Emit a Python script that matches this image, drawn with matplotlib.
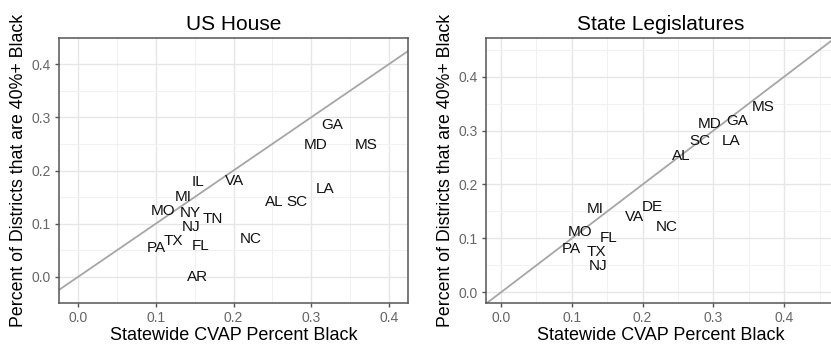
import numpy as np
import matplotlib
matplotlib.use("Agg")
import matplotlib.pyplot as plt
from matplotlib.ticker import MultipleLocator, FormatStrFormatter

plt.rcParams["font.family"] = ["Liberation Sans", "DejaVu Sans"]

# US House: statewide CVAP share black vs. share of districts 40%+ black
house_states = ["GA", "MD", "MS", "IL", "VA", "LA", "MI", "AL", "SC", "MO",
                "NY", "TN", "NJ", "NC", "TX", "PA", "FL", "AR"]
house_cvap = [0.327, 0.306, 0.370, 0.154, 0.201, 0.318, 0.135, 0.252, 0.282, 0.110,
              0.144, 0.174, 0.146, 0.222, 0.123, 0.101, 0.158, 0.154]
house_share = [0.285, 0.247, 0.248, 0.178, 0.180, 0.165, 0.151, 0.141, 0.141, 0.124,
               0.120, 0.109, 0.093, 0.071, 0.068, 0.054, 0.059, 0.000]

# State legislatures
leg_states = ["MS", "MD", "GA", "SC", "LA", "AL", "MI", "DE", "VA", "NC",
              "MO", "FL", "PA", "TX", "NJ"]
leg_cvap = [0.370, 0.295, 0.334, 0.281, 0.325, 0.254, 0.133, 0.214, 0.189, 0.234,
            0.112, 0.152, 0.100, 0.135, 0.137]
leg_share = [0.344, 0.313, 0.317, 0.281, 0.281, 0.252, 0.154, 0.159, 0.139, 0.122,
             0.111, 0.100, 0.080, 0.075, 0.048]

W, H = 831, 352
fig = plt.figure(figsize=(W / 100, H / 100), dpi=100)


def panel(rect, title, states, xs, ys, xlim, ylim):
    ax = fig.add_axes(rect)
    ax.set_xlim(*xlim)
    ax.set_ylim(*ylim)
    ax.xaxis.set_major_locator(MultipleLocator(0.1))
    ax.yaxis.set_major_locator(MultipleLocator(0.1))
    ax.xaxis.set_minor_locator(MultipleLocator(0.05))
    ax.yaxis.set_minor_locator(MultipleLocator(0.05))
    ax.grid(which="major", color="#e6e6e6", linewidth=1.0, zorder=0)
    ax.grid(which="minor", color="#f1f1f1", linewidth=0.7, zorder=0)
    ax.set_axisbelow(True)
    for s in ax.spines.values():
        s.set_color("#555555")
        s.set_linewidth(1.1)
    ax.tick_params(which="major", length=3, width=1.0, color="#555555",
                   labelcolor="#666666", labelsize=10, pad=3)
    ax.tick_params(which="minor", length=0)
    ax.xaxis.set_major_formatter(FormatStrFormatter("%.1f"))
    ax.yaxis.set_major_formatter(FormatStrFormatter("%.1f"))

    # 45-degree reference line
    lo = min(xlim[0], ylim[0]) - 0.1
    hi = max(xlim[1], ylim[1]) + 0.1
    ax.plot([lo, hi], [lo, hi], color="#a6a6a6", linewidth=1.3, zorder=1)

    for st, x, y in zip(states, xs, ys):
        ax.text(x, y, st, ha="center", va="center", fontsize=11, color="#111111",
                zorder=3)

    ax.set_title(title, fontsize=15, pad=6)
    ax.set_xlabel("Statewide CVAP Percent Black", fontsize=13, labelpad=1)
    ax.set_ylabel("Percent of Districts that are 40%+ Black", fontsize=12.8, labelpad=3)
    return ax


panel([59 / W, 49 / H, 349 / W, 265 / H], "US House",
      house_states, house_cvap, house_share, (-0.0244, 0.4244), (-0.049, 0.449))
panel([486 / W, 49 / H, 349 / W, 265 / H], "State Legislatures",
      leg_states, leg_cvap, leg_share, (-0.0212, 0.4718), (-0.0199, 0.4718))

fig.savefig("out.png", dpi=100)
